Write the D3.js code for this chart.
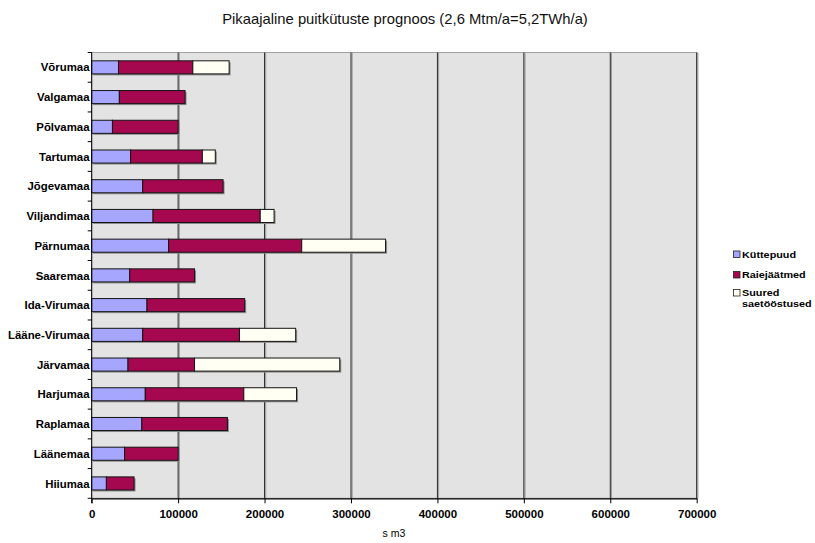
<!DOCTYPE html>
<html>
<head>
<meta charset="utf-8">
<script src="https://cdn.jsdelivr.net/npm/d3@7"></script>
<style>
  html, body { margin: 0; padding: 0; background: #ffffff; }
  svg { display: block; }
  text { font-family: "Liberation Sans", Arial, sans-serif; }
</style>
</head>
<body>
<svg id="chart" width="815" height="543"></svg>
<script>
// Counties, top to bottom
const categories = ["Võrumaa", "Valgamaa", "Põlvamaa", "Tartumaa", "Jõgevamaa", "Viljandimaa",
  "Pärnumaa", "Saaremaa", "Ida-Virumaa", "Lääne-Virumaa", "Järvamaa", "Harjumaa",
  "Raplamaa", "Läänemaa", "Hiiumaa"];

// Series values, s m3
const kuttepuud   = [31000, 32000, 24000, 45000, 59000, 71000, 89000, 44000, 64000, 59000, 42000, 62000, 58000, 38000, 17000];
const raiejaatmed = [86000, 76000, 76000, 83000, 93000, 124000, 154000, 75000, 113000, 112000, 77000, 114000, 99000, 62000, 32000];
const suured      = [42000, 0, 0, 15000, 0, 16000, 97000, 0, 0, 65000, 168000, 61000, 0, 0, 0];

const seriesNames = ["Küttepuud", "Raiejäätmed", "Suured saetööstused"];
const xTicks = [0, 100000, 200000, 300000, 400000, 500000, 600000, 700000];

const titleText = "Pikaajaline puitkütuste prognoos (2,6 Mtm/a=5,2TWh/a)";
const xTitle = "s m3";

const colors = ["#a6a6ff", "#a5084f", "#fffff4"];

const svg = d3.select("#chart");
const plot = { left: 91.7, right: 696.7, top: 52.5, bottom: 498.3 };

const x = d3.scaleLinear().domain([0, 700000]).range([plot.left, plot.right]);
const y = d3.scaleBand().domain(categories).range([plot.top, plot.bottom])
  .paddingInner(0.56).paddingOuter(0.28);

const rows = categories.map((c, i) => ({
  cat: c, k0: kuttepuud[i], k1: raiejaatmed[i], k2: suured[i]
}));
const stack = d3.stack().keys(["k0", "k1", "k2"]);
const layers = stack(rows);

// Title
svg.append("text")
  .attr("x", 405).attr("y", 24)
  .attr("text-anchor", "middle")
  .attr("font-size", 14.8)
  .attr("fill", "#111")
  .text(titleText);

// Plot area background
svg.append("rect")
  .attr("x", plot.left).attr("y", plot.top)
  .attr("width", plot.right - plot.left).attr("height", plot.bottom - plot.top)
  .attr("fill", "#e3e3e3")
  .attr("stroke", "#a0a0a0").attr("stroke-width", 1);

// Vertical gridlines with a soft shadow
const grid = svg.append("g");
grid.selectAll("line.sh").data(xTicks.slice(1)).join("line")
  .attr("class", "sh")
  .attr("x1", d => x(d) + 1.2).attr("x2", d => x(d) + 1.2)
  .attr("y1", plot.top).attr("y2", plot.bottom)
  .attr("stroke", "#9a9a9a").attr("stroke-width", 1);
grid.selectAll("line.gl").data(xTicks.slice(1)).join("line")
  .attr("class", "gl")
  .attr("x1", d => x(d)).attr("x2", d => x(d))
  .attr("y1", plot.top).attr("y2", plot.bottom)
  .attr("stroke", "#2a2a2a").attr("stroke-width", 1);

// Bars: shadows first, then stacked segments
const barsG = svg.append("g");
layers.forEach((layer, li) => {
  const segs = layer.filter(d => d[1] - d[0] > 0);
  barsG.selectAll(null).data(segs).join("rect")
    .attr("x", d => x(d[0]) + 1.5)
    .attr("y", d => y(d.data.cat) + 1.5)
    .attr("width", d => x(d[1]) - x(d[0]))
    .attr("height", y.bandwidth())
    .attr("fill", "#8c8c8c");
});
layers.forEach((layer, li) => {
  const segs = layer.filter(d => d[1] - d[0] > 0);
  barsG.selectAll(null).data(segs).join("rect")
    .attr("x", d => x(d[0]))
    .attr("y", d => y(d.data.cat))
    .attr("width", d => x(d[1]) - x(d[0]))
    .attr("height", y.bandwidth())
    .attr("fill", colors[li])
    .attr("stroke", "#141414").attr("stroke-width", 1);
});

// Y axis: category labels and boundary ticks
const yAxisG = svg.append("g");
yAxisG.append("line")
  .attr("x1", plot.left).attr("x2", plot.left)
  .attr("y1", plot.top).attr("y2", plot.bottom + 5)
  .attr("stroke", "#000");
const boundaries = d3.range(categories.length + 1).map(i => plot.top + i * y.step());
yAxisG.selectAll("line.tk").data(boundaries).join("line")
  .attr("class", "tk")
  .attr("x1", plot.left - 4).attr("x2", plot.left)
  .attr("y1", d => d).attr("y2", d => d)
  .attr("stroke", "#000");
yAxisG.selectAll("text").data(categories).join("text")
  .attr("x", 89.5)
  .attr("y", d => y(d) + y.bandwidth() / 2)
  .attr("dy", "0.36em")
  .attr("text-anchor", "end")
  .attr("font-size", 11.4)
  .attr("font-weight", "bold")
  .text(d => d);

// X axis
const xAxis = d3.axisBottom(x).tickValues(xTicks).tickSize(5).tickSizeOuter(0)
  .tickFormat(d3.format("d"));
const xAxisG = svg.append("g")
  .attr("transform", `translate(0,${plot.bottom})`)
  .call(xAxis);
xAxisG.select(".domain").attr("stroke", "#000").attr("stroke-width", 1.3);
xAxisG.selectAll(".tick line").attr("stroke", "#000");
xAxisG.selectAll(".tick text")
  .attr("y", 11.5)
  .attr("font-family", "'Liberation Sans', Arial, sans-serif")
  .attr("font-size", 11.5)
  .attr("font-weight", "bold")
  .attr("fill", "#000");

svg.append("text")
  .attr("x", 394).attr("y", 537)
  .attr("text-anchor", "middle")
  .attr("font-size", 10.5)
  .text(xTitle);

// Legend (text slightly widened horizontally)
const legendRows = [
  { lines: ["Küttepuud"], y: 251 },
  { lines: ["Raiejäätmed"], y: 271.5 },
  { lines: ["Suured", "saetööstused"], y: 289.5 }
];
const legend = svg.append("g");
legendRows.forEach((r, i) => {
  legend.append("rect")
    .attr("x", 733.5).attr("y", r.y)
    .attr("width", 6.5).attr("height", 6.5)
    .attr("fill", colors[i])
    .attr("stroke", "#222").attr("stroke-width", 0.8);
  r.lines.forEach((ln, j) => {
    const ty = r.y + 6.5 + j * 11;
    legend.append("text")
      .attr("transform", `translate(742,${ty}) scale(1.14,1)`)
      .attr("font-size", 9.5)
      .attr("font-weight", "bold")
      .text(ln);
  });
});
</script>
</body>
</html>
